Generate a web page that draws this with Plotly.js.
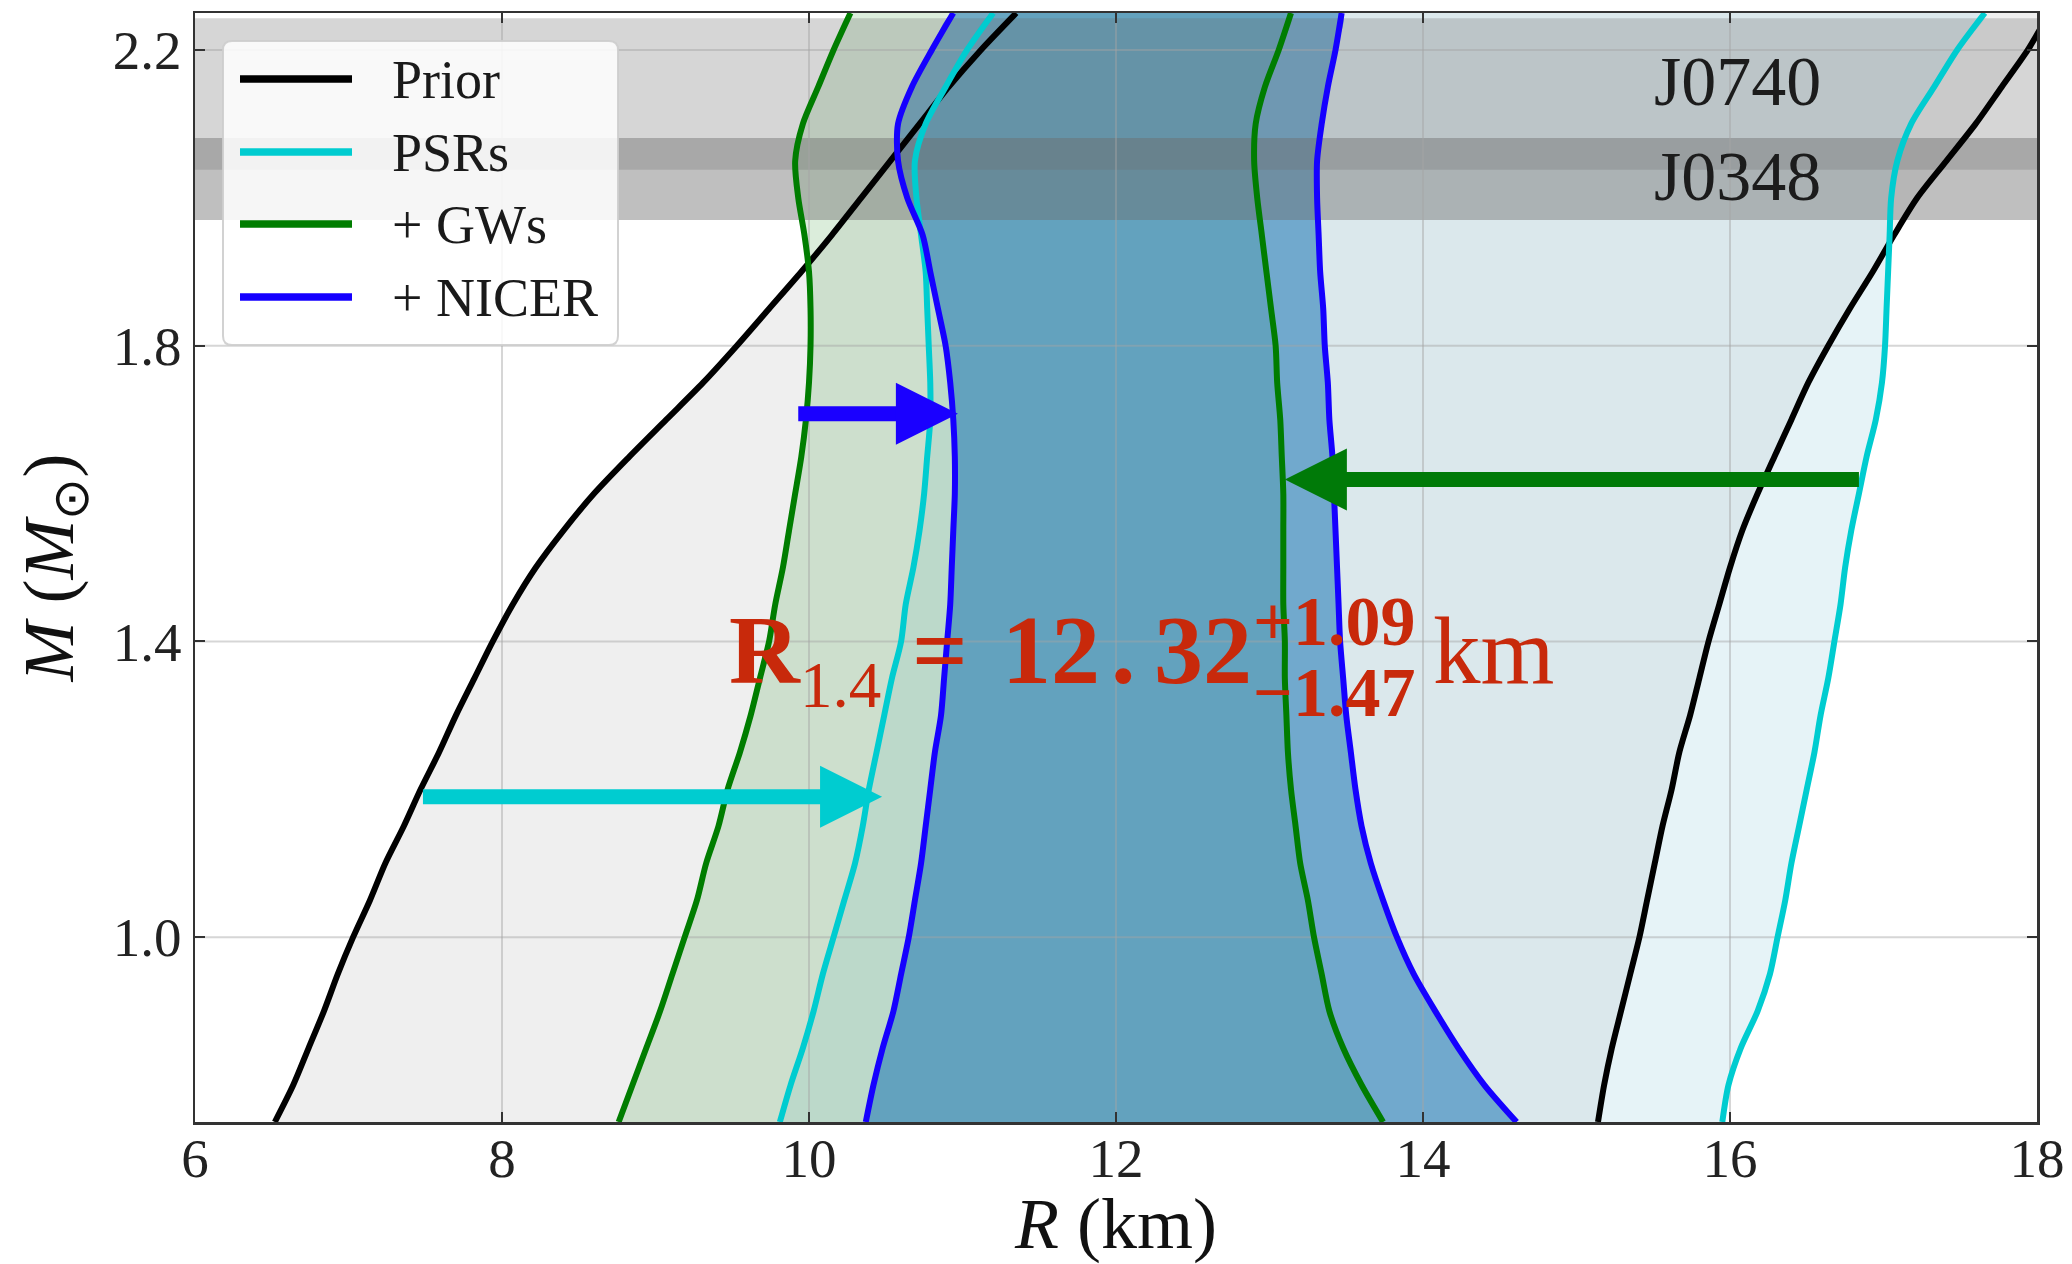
<!DOCTYPE html>
<html>
<head>
<meta charset="utf-8">
<script src="https://cdn.plot.ly/plotly-3.0.1.min.js"></script>
<style>html,body{margin:0;padding:0;background:#fff;}</style>
</head>
<body>
<div id="chart" style="width:2072px;height:1264px;"></div>
<script>
// Neutron-star mass grid (solar masses) shared by every band boundary
const mass = [0.75,0.80,0.85,0.90,0.95,1.00,1.05,1.10,1.15,1.20,1.25,1.30,1.35,1.40,1.45,1.50,
              1.55,1.60,1.65,1.70,1.75,1.80,1.85,1.90,1.95,2.00,2.05,2.10,2.15,2.20,2.25];

// Radius bounds (km) of each credible band at the masses above
const priorLo = [6.52,6.64,6.74,6.84,6.93,7.03,7.14,7.24,7.36,7.47,7.59,7.70,7.82,7.94,8.07,8.22,
                 8.40,8.60,8.83,9.07,9.31,9.53,9.74,9.95,10.15,10.34,10.53,10.72,10.91,11.12,11.35];
const priorHi = [15.14,15.18,15.23,15.29,15.35,15.41,15.46,15.51,15.56,15.62,15.67,15.74,15.80,15.86,15.93,16.00,
                 16.08,16.18,16.29,16.40,16.51,16.64,16.78,16.93,17.07,17.22,17.41,17.60,17.77,17.94,18.08];
const psrLo   = [9.81,9.88,9.96,10.03,10.09,10.16,10.23,10.30,10.35,10.39,10.44,10.49,10.54,10.60,10.63,10.68,
                 10.72,10.75,10.77,10.79,10.79,10.78,10.77,10.76,10.73,10.70,10.69,10.76,10.89,11.03,11.20];
const psrHi   = [15.95,15.99,16.07,16.18,16.26,16.31,16.36,16.40,16.45,16.50,16.55,16.59,16.64,16.68,16.72,16.75,
                 16.79,16.84,16.89,16.95,16.99,17.01,17.02,17.03,17.04,17.05,17.09,17.18,17.33,17.48,17.66];
const gwLo    = [8.76,8.85,8.94,9.03,9.11,9.19,9.27,9.33,9.41,9.47,9.55,9.62,9.68,9.74,9.78,9.83,
                 9.87,9.91,9.95,9.98,10.00,10.01,10.01,10.00,9.97,9.93,9.91,9.96,10.06,10.16,10.27];
const gwHi    = [13.74,13.60,13.48,13.39,13.34,13.29,13.25,13.20,13.17,13.14,13.12,13.11,13.10,13.10,13.09,13.09,
                 13.09,13.09,13.08,13.07,13.05,13.04,13.01,12.98,12.95,12.92,12.90,12.91,12.97,13.06,13.14];
const nicerLo = [10.37,10.42,10.48,10.55,10.60,10.65,10.69,10.73,10.76,10.79,10.82,10.86,10.88,10.90,10.92,10.93,
                 10.94,10.95,10.95,10.94,10.92,10.89,10.84,10.79,10.74,10.64,10.58,10.58,10.67,10.80,10.94];
const nicerHi = [14.61,14.40,14.23,14.08,13.94,13.83,13.74,13.66,13.60,13.56,13.53,13.50,13.48,13.46,13.45,13.44,
                 13.43,13.42,13.41,13.39,13.38,13.36,13.35,13.33,13.32,13.31,13.31,13.34,13.38,13.43,13.47];

// Series names in drawing order
const seriesNames = ['Prior', 'PSRs', '+ GWs', '+ NICER'];

// Heavy pulsar mass intervals (solar masses)
const pulsarNames = ['J0740', 'J0348'];
const pulsarLo = [2.038, 1.970];
const pulsarHi = [2.243, 2.081];

// Arrows: radius where each starts and where it points, at a given mass
const arrowFromR = [9.93, 7.485, 16.84];
const arrowToR   = [10.97, 10.476, 13.10];
const arrowMass  = [1.708, 1.190, 1.619];

// Radius of a 1.4 solar-mass star with its asymmetric uncertainty (km)
const r14 = 12.32, r14Up = 1.09, r14Down = 1.47;

// Axis ticks
const xTicks = [6, 8, 10, 12, 14, 16, 18];
const yTicks = [1.0, 1.4, 1.8, 2.2];
const yTickText = ['1.0', '1.4', '1.8', '2.2'];

// ---------- styling ----------
const FONT = 'Liberation Serif, Times New Roman, serif';
const xRange = [6, 18], yRange = [0.75, 2.25];
const M = {l: 195, r: 35, t: 13, b: 142};
const W = 2072, H = 1264;
const plotW = W - M.l - M.r, plotH = H - M.t - M.b;
const kmPerPx = (xRange[1] - xRange[0]) / plotW;
const paperX = px => (px - M.l) / plotW;
const paperY = py => 1 - (py - M.t) / plotH;

const lineColors = ['#000000', '#00ccd0', '#007d00', '#1500ff'];
const fillColors = ['rgba(128,128,128,0.125)', 'rgba(173,216,230,0.30)',
                    'rgba(0,128,0,0.14)', 'rgba(31,119,180,0.56)'];
const bandColors = ['rgba(109,109,109,0.28)', 'rgba(109,109,109,0.44)'];
const arrowColors = ['#1a00ff', '#00ccd0', '#007a08'];
const red = '#c8290b';
const smooth = 0.8;

const bounds = [[priorLo, priorHi], [psrLo, psrHi], [gwLo, gwHi], [nicerLo, nicerHi]];
const traces = [];

// filled credible regions
bounds.forEach(([lo, hi], i) => {
  traces.push({
    type: 'scatter', mode: 'lines', hoverinfo: 'skip',
    x: lo.concat(hi.slice().reverse()),
    y: mass.concat(mass.slice().reverse()),
    fill: 'toself', fillcolor: fillColors[i],
    line: {width: 0, color: 'rgba(0,0,0,0)', shape: 'spline', smoothing: smooth}
  });
});

// pulsar mass bands
pulsarLo.forEach((lo, i) => {
  const hi = pulsarHi[i];
  traces.push({
    type: 'scatter', mode: 'lines', hoverinfo: 'skip',
    x: [xRange[0], xRange[1], xRange[1], xRange[0], xRange[0]],
    y: [lo, lo, hi, hi, lo],
    fill: 'toself', fillcolor: bandColors[i],
    line: {width: 0, color: 'rgba(0,0,0,0)'}
  });
});

// grid (above fills, below boundary lines)
const gx = [], gy = [];
xTicks.slice(1, -1).forEach(t => { gx.push(t, t, null); gy.push(yRange[0], yRange[1], null); });
yTicks.forEach(t => { gx.push(xRange[0], xRange[1], null); gy.push(t, t, null); });
traces.push({type: 'scatter', mode: 'lines', hoverinfo: 'skip', x: gx, y: gy,
             line: {color: 'rgba(165,165,165,0.45)', width: 2}});

// boundary lines
bounds.forEach(([lo, hi], i) => {
  traces.push({
    type: 'scatter', mode: 'lines', name: seriesNames[i], hoverinfo: 'skip',
    x: lo.concat([null], hi), y: mass.concat([null], mass),
    connectgaps: false,
    line: {color: lineColors[i], width: 6, shape: 'spline', smoothing: smooth}
  });
});

const shapes = [];
const annotations = [];

// legend frame with rounded corners, drawn in pixels from its top-left corner
const lgX = paperX(223), lgY = paperY(41), lgW = 395, lgH = 304, rr = 9;
shapes.push({
  type: 'path', xref: 'paper', yref: 'paper', layer: 'above',
  xsizemode: 'pixel', ysizemode: 'pixel', xanchor: lgX, yanchor: lgY,
  path: `M${rr},0 H${lgW - rr} Q${lgW},0 ${lgW},${-rr} V${-(lgH - rr)} Q${lgW},${-lgH} ${lgW - rr},${-lgH} ` +
        `H${rr} Q0,${-lgH} 0,${-(lgH - rr)} V${-rr} Q0,0 ${rr},0 Z`,
  fillcolor: 'rgba(255,255,255,0.85)', line: {color: 'rgba(205,205,205,0.9)', width: 2}
});
const rowPx = [79, 152, 224, 297];
seriesNames.forEach((name, i) => {
  shapes.push({
    type: 'line', xref: 'paper', yref: 'paper', layer: 'above',
    x0: paperX(240), x1: paperX(352), y0: paperY(rowPx[i]), y1: paperY(rowPx[i]),
    line: {color: lineColors[i], width: 7.5}
  });
  annotations.push({
    xref: 'paper', yref: 'paper', x: paperX(390), y: paperY(rowPx[i] + 1),
    xanchor: 'left', yanchor: 'middle', showarrow: false, text: name,
    font: {family: FONT, size: 54, color: '#1a1a1a'}
  });
});

// arrows: thick shaft plus a triangular head sized in pixels
const headLen = 62, headHalf = 31;
arrowToR.forEach((to, i) => {
  const from = arrowFromR[i], y = arrowMass[i];
  const dir = Math.sign(to - from);
  shapes.push({
    type: 'line', xref: 'x', yref: 'y', layer: 'above',
    x0: from, x1: to - dir * (headLen - 2) * kmPerPx, y0: y, y1: y,
    line: {color: arrowColors[i], width: 15}
  });
  const b = -dir * headLen;
  shapes.push({
    type: 'path', xref: 'x', yref: 'y', layer: 'above',
    xsizemode: 'pixel', ysizemode: 'pixel', xanchor: to, yanchor: y,
    path: `M0,0 L${b},${headHalf} L${b},${-headHalf} Z`,
    fillcolor: arrowColors[i], line: {color: arrowColors[i], width: 0}
  });
});

// pulsar labels
pulsarNames.forEach((name, i) => {
  annotations.push({
    xref: 'x', yref: 'y', x: 16.046, y: i === 0 ? 2.158 : 2.029,
    xanchor: 'center', yanchor: 'middle', showarrow: false, text: name,
    font: {family: FONT, size: 70, color: '#1c1c1c'}
  });
});

// R_1.4 result
const [intPart, fracPart] = r14.toFixed(2).split('.');
const txt = (text, x, y, size, bold, anchor) => annotations.push({
  xref: 'x', yref: 'y', x: x, y: y, xanchor: anchor || 'left', yanchor: 'middle',
  showarrow: false, text: bold ? '<b>' + text + '</b>' : text,
  font: {family: FONT, size: size, color: red}
});
txt('R', 9.466, 1.388, 98, true);
txt('1.4', 9.928, 1.341, 65, false);
txt('=', 10.658, 1.388, 98, true);
txt(intPart, 11.244, 1.388, 98, true);
txt('.', 12.052, 1.388, 98, true, 'center');
txt(fracPart, 12.235, 1.388, 98, true);
txt('+' + r14Up.toFixed(2), 12.88, 1.427, 70, true);
txt('\u2212' + r14Down.toFixed(2), 12.88, 1.331, 70, true);
txt('km', 14.052, 1.387, 95, false);

const axisCommon = {
  ticks: 'inside', ticklen: 10, tickwidth: 2, tickcolor: '#333',
  mirror: 'ticks', showline: true, linecolor: '#333', linewidth: 2.5,
  showgrid: false, zeroline: false,
  tickfont: {family: FONT, size: 55, color: '#222'}
};

const layout = {
  width: W, height: H,
  margin: {l: M.l, r: M.r, t: M.t, b: M.b, pad: 0},
  paper_bgcolor: '#ffffff', plot_bgcolor: '#ffffff',
  showlegend: false,
  font: {family: FONT, color: '#222'},
  xaxis: Object.assign({}, axisCommon, {
    range: xRange, tickvals: xTicks, ticktext: xTicks.map(String),
    ticklabelstandoff: -14,
    title: {text: '<i>R</i> (km)', font: {family: FONT, size: 72, color: '#111'}, standoff: 26}
  }),
  yaxis: Object.assign({}, axisCommon, {
    range: yRange, tickvals: yTicks, ticktext: yTickText,
    title: {text: '<i>M</i> (<i>M</i><sub>\u2299</sub>)', font: {family: FONT, size: 72, color: '#111'}, standoff: 16}
  }),
  shapes: shapes,
  annotations: annotations
};

Plotly.newPlot('chart', traces, layout, {staticPlot: true, displayModeBar: false});
</script>
</body>
</html>
